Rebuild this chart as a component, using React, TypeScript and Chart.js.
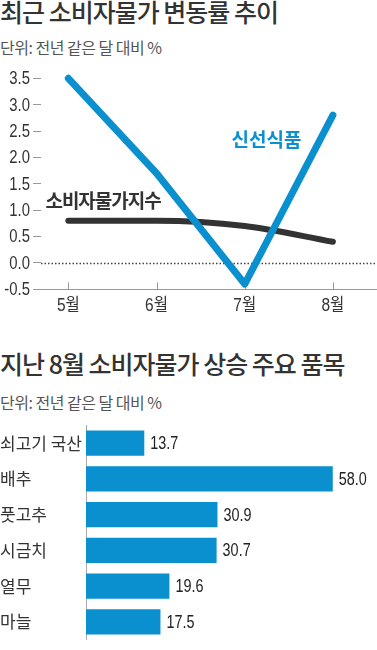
import React, { useEffect, useRef } from 'react';
import { Chart, registerables } from 'chart.js';

Chart.register(...registerables);

const TITLE_TREND = '최근 소비자물가 변동률 추이';
const TITLE_ITEMS = '지난 8월 소비자물가 상승 주요 품목';
const UNIT = '단위: 전년 같은 달 대비 %';

const MONTHS = ['5월', '6월', '7월', '8월'];
const FRESH_FOOD = [3.5, 1.7, -0.4, 2.8];
const CPI = [0.8, 0.8, 0.7, 0.4];
const Y_TICKS = [-0.5, 0, 0.5, 1, 1.5, 2, 2.5, 3, 3.5];
const SERIES_NAMES = ['신선식품', '소비자물가지수'];

const ITEMS = ['쇠고기 국산', '배추', '풋고추', '시금치', '열무', '마늘'];
const ITEM_VALUES = [13.7, 58.0, 30.9, 30.7, 19.6, 17.5];

const BLUE = '#0a8fcf';
const DARK = '#333333';
const NUM_FONT = "'Liberation Sans', 'Noto Sans CJK KR', sans-serif";
const KR_FONT = "'Noto Sans CJK KR', 'Noto Sans', sans-serif";

function drawCondensed(
  ctx: CanvasRenderingContext2D,
  text: string,
  x: number,
  y: number,
  align: CanvasTextAlign,
  sx: number
) {
  ctx.save();
  ctx.translate(x, y);
  ctx.scale(sx, 1);
  ctx.textAlign = align;
  ctx.fillText(text, 0, 0);
  ctx.restore();
}

function TrendChart() {
  const ref = useRef<HTMLCanvasElement>(null);
  useEffect(() => {
    const decor = {
      id: 'trendDecor',
      beforeDatasetsDraw(chart: any) {
        const { ctx, chartArea, scales } = chart;
        const x = scales.x;
        const y = scales.y;
        ctx.save();
        const y0 = Math.round(y.getPixelForValue(0)) + 0.5;
        ctx.strokeStyle = '#444';
        ctx.lineWidth = 1.5;
        ctx.setLineDash([1.5, 2]);
        ctx.beginPath();
        ctx.moveTo(chartArea.left, y0);
        ctx.lineTo(chartArea.right, y0);
        ctx.stroke();
        ctx.setLineDash([]);
        ctx.strokeStyle = '#999';
        ctx.lineWidth = 1;
        x.ticks.forEach((t: any) => {
          const px = Math.round(x.getPixelForValue(t.value)) + 0.5;
          ctx.beginPath();
          ctx.moveTo(px, chartArea.bottom);
          ctx.lineTo(px, chartArea.bottom - 7);
          ctx.stroke();
        });
        ctx.restore();
      },
      afterDatasetsDraw(chart: any) {
        const { ctx, scales, chartArea } = chart;
        const x = scales.x;
        const y = scales.y;
        ctx.save();
        ctx.textBaseline = 'middle';
        ctx.fillStyle = DARK;
        ctx.font = `17.5px ${NUM_FONT}`;
        // y tick labels
        y.ticks.forEach((t: any) => {
          drawCondensed(ctx, Number(t.value).toFixed(1), y.right - 11, y.getPixelForValue(t.value) + 1, 'right', 0.85);
        });
        // x tick labels
        ctx.font = `18px ${NUM_FONT}`;
        x.ticks.forEach((t: any) => {
          drawCondensed(ctx, MONTHS[t.value], x.getPixelForValue(t.value), chartArea.bottom + 17, 'center', 0.86);
        });
        // series labels
        ctx.textAlign = 'left';
        ctx.font = `bold 19px ${KR_FONT}`;
        (ctx as any).letterSpacing = '-1px';
        ctx.fillText(SERIES_NAMES[1], x.getPixelForValue(-0.26), y.getPixelForValue(1.17));
        (ctx as any).letterSpacing = '0px';
        ctx.fillStyle = BLUE;
        ctx.fillText(SERIES_NAMES[0], x.getPixelForValue(1.85), y.getPixelForValue(2.33));
        ctx.restore();
      },
    };
    const chart = new Chart(ref.current as HTMLCanvasElement, {
      type: 'line',
      data: {
        datasets: [
          {
            label: SERIES_NAMES[0],
            data: FRESH_FOOD.map((v, i) => ({ x: i, y: v })),
            borderColor: BLUE,
            borderWidth: 7,
            pointRadius: 0,
            tension: 0,
            borderCapStyle: 'round',
            borderJoinStyle: 'round',
            clip: false,
          },
          {
            label: SERIES_NAMES[1],
            data: CPI.map((v, i) => ({ x: i, y: v })),
            borderColor: DARK,
            borderWidth: 6,
            pointRadius: 0,
            cubicInterpolationMode: 'monotone',
            borderCapStyle: 'round',
            borderJoinStyle: 'round',
            clip: false,
          },
        ] as any,
      },
      options: {
        responsive: false,
        animation: false,
        events: [],
        layout: { padding: { top: 18.3, left: 0, right: 0, bottom: 0 } },
        plugins: { legend: { display: false }, tooltip: { enabled: false } },
        scales: {
          x: {
            type: 'linear',
            min: -0.31,
            max: 3.5,
            afterBuildTicks: (s: any) => {
              s.ticks = MONTHS.map((_, i) => ({ value: i }));
            },
            afterFit: (s: any) => {
              s.height = 30.7;
            },
            ticks: { display: false },
            grid: { display: false, drawTicks: false },
            border: { display: true, color: '#999', width: 1 },
          },
          y: {
            min: -0.5,
            max: 3.5,
            afterBuildTicks: (s: any) => {
              s.ticks = Y_TICKS.map((v) => ({ value: v }));
            },
            afterFit: (s: any) => {
              s.width = 41;
            },
            ticks: { display: false },
            grid: { drawOnChartArea: false, drawTicks: true, tickLength: 8, tickColor: '#999' },
            border: { display: false },
          },
        },
      } as any,
      plugins: [decor],
    });
    return () => chart.destroy();
  }, []);
  return (
    <canvas
      ref={ref}
      width={377}
      height={260}
      style={{ position: 'absolute', left: 0, top: 60, width: 377, height: 260 }}
    />
  );
}

function ItemsChart() {
  const ref = useRef<HTMLCanvasElement>(null);
  useEffect(() => {
    const valueLabels = {
      id: 'valueLabels',
      afterDatasetsDraw(chart: any) {
        const { ctx } = chart;
        const meta = chart.getDatasetMeta(0);
        ctx.save();
        ctx.font = `18px ${NUM_FONT}`;
        ctx.fillStyle = '#222';
        ctx.textBaseline = 'middle';
        meta.data.forEach((bar: any, i: number) => {
          drawCondensed(ctx, ITEM_VALUES[i].toFixed(1), bar.x + 6, bar.y + 1, 'left', 0.8);
        });
        ctx.restore();
      },
    };
    const chart = new Chart(ref.current as HTMLCanvasElement, {
      type: 'bar',
      data: {
        labels: ITEMS,
        datasets: [
          {
            data: ITEM_VALUES,
            backgroundColor: BLUE,
            barPercentage: 0.71,
            categoryPercentage: 1,
          },
        ],
      },
      options: {
        indexAxis: 'y',
        responsive: false,
        animation: false,
        events: [],
        layout: { padding: { top: 6.5, bottom: 0.5, left: 0, right: 0 } },
        plugins: { legend: { display: false }, tooltip: { enabled: false } },
        scales: {
          x: { display: false, min: 0, max: 68.4 },
          y: {
            afterFit: (s: any) => {
              s.width = 86;
            },
            ticks: {
              crossAlign: 'far',
              color: DARK,
              padding: 0,
              font: { family: KR_FONT, size: 17 },
            },
            grid: { display: false, drawTicks: false },
            border: { display: true, color: '#aaa', width: 1 },
          },
        },
      } as any,
      plugins: [valueLabels],
    });
    return () => chart.destroy();
  }, []);
  return (
    <canvas
      ref={ref}
      width={377}
      height={235}
      style={{ position: 'absolute', left: 0, top: 415, width: 377, height: 235 }}
    />
  );
}

const titleStyle: React.CSSProperties = {
  position: 'absolute',
  left: 0,
  fontSize: 25,
  lineHeight: '25px',
  letterSpacing: '-1px',
  fontWeight: 500,
  color: DARK,
  whiteSpace: 'nowrap',
};

const unitStyle: React.CSSProperties = {
  position: 'absolute',
  left: 0,
  fontSize: 16,
  lineHeight: '16px',
  letterSpacing: '-0.5px',
  color: '#555',
  whiteSpace: 'nowrap',
};

export default function App() {
  useEffect(() => {
    document.body.style.margin = '0';
  }, []);
  return (
    <div
      style={{
        position: 'relative',
        width: 377,
        height: 650,
        overflow: 'hidden',
        background: '#fff',
        fontFamily: KR_FONT,
      }}
    >
      <div style={{ ...titleStyle, top: -1 }}>{TITLE_TREND}</div>
      <div style={{ ...unitStyle, top: 39 }}>{UNIT}</div>
      <TrendChart />
      <div style={{ ...titleStyle, top: 351 }}>{TITLE_ITEMS}</div>
      <div style={{ ...unitStyle, top: 393.5 }}>{UNIT}</div>
      <ItemsChart />
    </div>
  );
}
